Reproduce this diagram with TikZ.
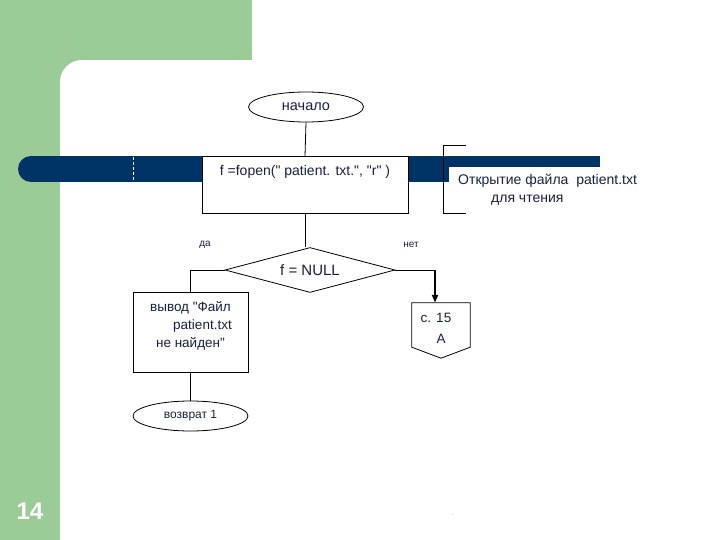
\documentclass[tikz,border=0pt]{standalone}
\usepackage{fontspec}
\setmainfont{Liberation Sans}
\newfontfamily\plainsans{Liberation Sans}
\usetikzlibrary{shapes.geometric,arrows.meta}
\definecolor{slidegreen}{RGB}{155,203,151}
\definecolor{barblue}{RGB}{0,51,102}
\definecolor{txtblue}{RGB}{24,34,62}
\newcommand{\dq}{\symbol{34}}
\tikzset{
  x=1pt, y=-1pt,
  line/.style={draw=black, line width=0.8pt},
  boxnode/.style={line, fill=white, rectangle, inner sep=0pt},
  ellnode/.style={line, fill=white, ellipse, inner sep=0pt},
  txt/.style={text=txtblue, inner sep=0pt, font=\plainsans\fontsize{14}{18}\selectfont},
  small/.style={text=txtblue, inner sep=0pt, font=\plainsans\fontsize{10}{12}\selectfont},
  bigarrow/.style={draw=black, line width=2pt, -{Triangle[length=8pt,width=6pt]}}
}
\begin{document}
\begin{tikzpicture}
\useasboundingbox (0,0) rectangle (720,540);
% background
\fill[white] (0,0) rectangle (720,540);
\fill[slidegreen] (0,0) rectangle (252,60);
\fill[slidegreen] (0,0) rectangle (60,540);
\fill[slidegreen] (60,60) rectangle (82,82);
\fill[white] (82,82) circle[radius=22];
% dark bar
\fill[barblue] (31,169) circle[radius=13];
\fill[barblue] (31,156) rectangle (600,182);
\draw[white, line width=0.7pt, dash pattern=on 3pt off 2pt] (133,157) -- (133,181);

% nodes
\node[ellnode, minimum width=115pt, minimum height=30pt] (start) at (306,107) {};
\node[txt, font=\plainsans\fontsize{14.5}{18}\selectfont] at (start.center) {начало};

\node[boxnode, minimum width=206pt, minimum height=57pt, anchor=north] (proc) at (305,156) {};
\node[txt, anchor=north] (proctxt) at ([yshift=-9pt]proc.north) {f =fopen(\dq\ patient. txt.\dq, \dq r\dq\ )};

\node[line, diamond, aspect=3.8, minimum width=170pt, minimum height=45pt, inner sep=1pt, fill=white] (dia) at (310,270) {};
\node[txt, font=\plainsans\fontsize{15}{18}\selectfont] at (dia.center) {f = NULL};

\node[boxnode, minimum width=115pt, minimum height=80pt, anchor=north] (err) at (190.5,292) {};
\node[txt, font=\plainsans\fontsize{13.5}{18}\selectfont, align=center, anchor=north] (errtxt) at ([yshift=-9pt]err.north)
  {вывод \dq Файл\\\hspace*{24pt}patient.txt\\не найден\dq};

\node[ellnode, minimum width=115pt, minimum height=30pt] (ret) at (190.5,416) {};
\node[txt, font=\plainsans\fontsize{12}{14}\selectfont] at (ret.center) {возврат 1};

% off-page connector
\node[minimum width=58pt, minimum height=44pt, inner sep=0pt] (off) at (441,325) {};
\draw[line, fill=white] (off.north west) -- (off.north east) -- (off.south east)
  -- ([yshift=-11pt]off.south) -- (off.south west) -- cycle;
\node[txt, font=\plainsans\fontsize{13.5}{16}\selectfont] at (436,318) {с. 15};
\node[txt, font=\plainsans\fontsize{13.5}{16}\selectfont] at (441,339) {А};

% labels
\node[small] at (205,245) {да};
\node[small] at (411,245) {нет};

% annotation
\node[fill=white, anchor=north west, inner sep=0pt, minimum height=48pt, minimum width=240pt] (note) at (449,167) {};
\node[txt, anchor=west] at (458,181) {Открытие файла\ \ patient.txt};
\node[txt, anchor=west] at (491,200) {для чтения};
\coordinate (bt) at (443,145);
\coordinate (bb) at (443,213);
\draw[line] ([xshift=23pt]bt) -- (bt) -- (bb) -- ([xshift=23pt]bb);

% connectors
\draw[line] (start.south) -- (proc.north);
\draw[line] (proc.south) -- (proc.south |- dia.north);
\draw[line] (dia.west) -| (err.north);
\draw[line] (err.south) -- (ret.north);
\coordinate (turn) at (435,270);
\draw[line] (dia.east) -- (turn);
\draw[bigarrow] (turn) -- (turn |- off.north);

% page number and dot
\node[text=white, font=\plainsans\bfseries\fontsize{24}{26}\selectfont, inner sep=0pt] (pnum) at (30,511) {14};
\node[text=gray, font=\plainsans\fontsize{6}{7}\selectfont, inner sep=0pt] (dot) at (453,515) {.};
\end{tikzpicture}
\end{document}
